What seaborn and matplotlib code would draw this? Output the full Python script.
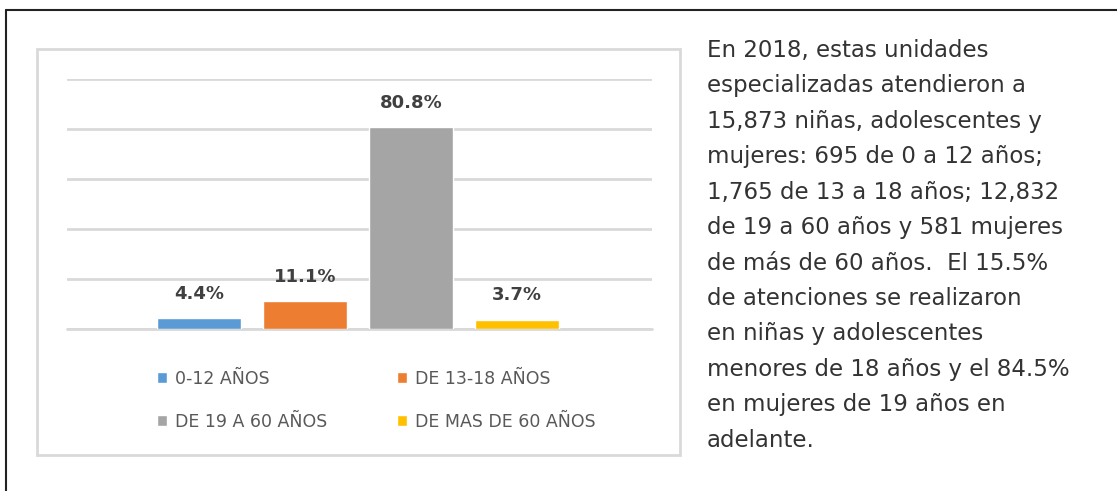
import matplotlib
matplotlib.use("Agg")
import pandas as pd
import seaborn as sns
import matplotlib.pyplot as plt
from matplotlib.patches import Rectangle
from matplotlib.lines import Line2D

# datos de la grafica
grupos = ['0-12 AÑOS', 'DE 13-18 AÑOS', 'DE 19 A 60 AÑOS', 'DE MAS DE 60 AÑOS']
porcentajes = [4.4, 11.1, 80.8, 3.7]
etiquetas = ['4.4%', '11.1%', '80.8%', '3.7%']
colores = ['#5B9BD5', '#ED7D31', '#A5A5A5', '#FFC000']

texto = ("En 2018, estas unidades\n"
         "especializadas atendieron a\n"
         "15,873 niñas, adolescentes y\n"
         "mujeres: 695 de 0 a 12 años;\n"
         "1,765 de 13 a 18 años; 12,832\n"
         "de 19 a 60 años y 581 mujeres\n"
         "de más de 60 años.  El 15.5%\n"
         "de atenciones se realizaron\n"
         "en niñas y adolescentes\n"
         "menores de 18 años y el 84.5%\n"
         "en mujeres de 19 años en\n"
         "adelante.")

df = pd.DataFrame({'grupo': grupos, 'pct': porcentajes})

sns.set_style('white')
plt.rcParams['font.family'] = ['DejaVu Sans']

W, H = 1117, 491
fig = plt.figure(figsize=(W / 100, H / 100), dpi=100)

# marco exterior (solo arriba e izquierda)
fig.add_artist(Line2D([6 / W, 1], [1 - 10 / H, 1 - 10 / H], color='#222222', lw=1.5))
fig.add_artist(Line2D([6 / W, 6 / W], [0, 1 - 10 / H], color='#222222', lw=1.5))

# recuadro gris del grafico
fig.add_artist(Rectangle((37 / W, 1 - 455 / H), (680 - 37) / W, (455 - 49) / H,
                         fill=False, edgecolor='#D9D9D9', lw=2))

ax = fig.add_axes([67 / W, 1 - 329 / H, 585 / W, 250 / H])
sns.barplot(data=df, x='grupo', y='pct', hue='grupo', palette=colores,
            width=0.79, ax=ax, legend=True, saturation=1)

ax.set_ylim(0, 100)
ax.set_xlim(-1.245, 4.27)
ax.grid(axis='y', color='#D9D9D9', lw=2)
ax.set_axisbelow(True)
ax.axhline(0, color='#D9D9D9', lw=2, clip_on=False, zorder=0.5)
for s in ax.spines.values():
    s.set_visible(False)
ax.set_xticks([])
ax.set_yticks([0, 20, 40, 60, 80, 100])
ax.tick_params(axis='y', length=0, labelleft=False)
ax.set_xlabel('')
ax.set_ylabel('')

for cont, lab in zip(ax.containers, etiquetas):
    ax.bar_label(cont, labels=[lab], padding=11, fontsize=13, color='#404040',
                 fontweight='bold')

# leyenda por filas como en el original
handles, labels = ax.get_legend_handles_labels()
orden = [0, 2, 1, 3]
leg = ax.legend(handles=[handles[i] for i in orden], labels=[labels[i] for i in orden],
                ncol=2, frameon=False,
                loc='upper left', bbox_to_anchor=(157 / W, 1 - 370 / H),
                bbox_transform=fig.transFigure, fontsize=12.5,
                handlelength=0.6, handleheight=0.6, handletextpad=0.45,
                columnspacing=4.0, labelspacing=1.42, borderaxespad=0, borderpad=0)
for t in leg.get_texts():
    t.set_color('#595959')

fig.text(707 / W, 1 - 39 / H, texto, ha='left', va='top', fontsize=16.5,
         color='#333333', linespacing=1.69)

fig.savefig('out.png', dpi=100, facecolor='white')
